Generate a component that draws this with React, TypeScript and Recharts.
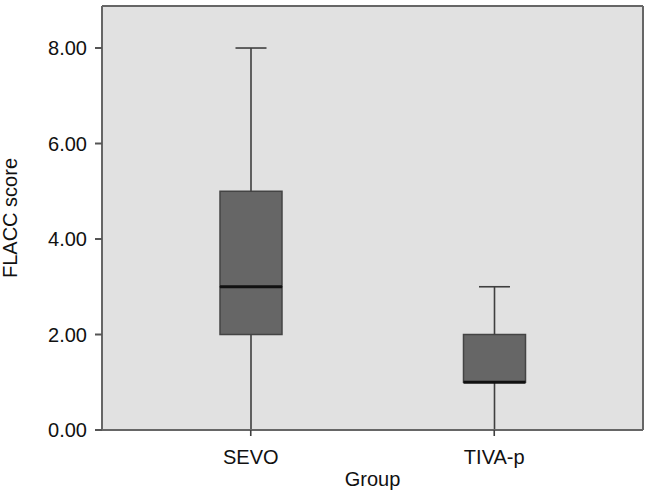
import { ComposedChart, Bar, XAxis, YAxis, CartesianGrid } from "recharts";

const groups = ["SEVO", "TIVA-p"];
const minVals = [0, 0];
const q1Vals = [2, 1];
const medianVals = [3, 1];
const q3Vals = [5, 2];
const maxVals = [8, 3];
const yTicks = [0, 2, 4, 6, 8];

const data = groups.map((g, i) => ({
  group: g,
  base: minVals[i],
  lowWhisker: q1Vals[i] - minVals[i],
  lowBox: medianVals[i] - q1Vals[i],
  highBox: q3Vals[i] - medianVals[i],
  highWhisker: maxVals[i] - q3Vals[i],
}));

const FONT = "'Liberation Sans', Arial, sans-serif";
const LINE = "#3f3f3f";

// whisker: vertical line + cap (cap at bottom for lower, top for upper)
function makeWhisker(capAtTop: boolean) {
  return (props: any) => {
    const { x, y, width, height } = props;
    if (height == null || isNaN(height)) return <g />;
    const cx = x + width / 2;
    const capY = capAtTop ? y : y + height;
    const capW = width / 4;
    return (
      <g>
        <line x1={cx} x2={cx} y1={y} y2={y + height} stroke={LINE} strokeWidth={1.6} />
        <line x1={cx - capW} x2={cx + capW} y1={capY} y2={capY} stroke={LINE} strokeWidth={1.6} />
      </g>
    );
  };
}

function makeBox(withMedian: boolean) {
  return (props: any) => {
    const { x, y, width, height } = props;
    if (height == null || isNaN(height)) return <g />;
    return (
      <g>
        <rect x={x} y={y} width={width} height={height} fill="#666666" stroke="#444444" strokeWidth={1.5} />
        {withMedian && (
          <line x1={x} x2={x + width} y1={y + height} y2={y + height} stroke="#111111" strokeWidth={3} />
        )}
      </g>
    );
  };
}

export default function App() {
  return (
    <div style={{ position: "absolute", left: 0, top: 0, background: "#ffffff" }}>
      <ComposedChart
        width={647}
        height={490}
        data={data}
        margin={{ top: 6, right: 4, bottom: 0, left: 0 }}
        barSize={62}
      >
        <CartesianGrid
          fill="#e1e1e1"
          stroke="#666666"
          strokeWidth={2}
          horizontalCoordinatesGenerator={({ offset }: any) => [offset.top, offset.top + offset.height]}
          verticalCoordinatesGenerator={({ offset }: any) => [offset.left, offset.left + offset.width]}
        />
        <XAxis
          dataKey="group"
          height={60}
          padding={{ left: 27, right: 27 }}
          tickSize={6}
          tickMargin={14}
          axisLine={{ stroke: "#666666", strokeWidth: 2 }}
          tickLine={{ stroke: LINE, strokeWidth: 1.6 }}
          tick={{ fill: "#111111", fontSize: 20, fontFamily: FONT }}
          label={{
            value: "Group",
            position: "insideBottom",
            offset: 4,
            fill: "#111111",
            fontSize: 20,
            fontFamily: FONT,
          }}
        />
        <YAxis
          type="number"
          domain={[0, 8.88]}
          ticks={yTicks}
          width={102}
          tickSize={7}
          tickMargin={8}
          tickFormatter={(v: number) => v.toFixed(2)}
          axisLine={{ stroke: "#666666", strokeWidth: 2 }}
          tickLine={{ stroke: "#555555", strokeWidth: 2 }}
          tick={{ fill: "#111111", fontSize: 20, fontFamily: FONT }}
          label={{
            value: "FLACC score",
            angle: -90,
            position: "insideLeft",
            offset: 5,
            dx: 5,
            style: { textAnchor: "middle" },
            fill: "#111111",
            fontSize: 20,
            fontFamily: FONT,
          }}
        />
        <Bar dataKey="base" stackId="a" fill="none" isAnimationActive={false} />
        <Bar dataKey="lowWhisker" stackId="a" shape={makeWhisker(false)} isAnimationActive={false} />
        <Bar dataKey="lowBox" stackId="a" shape={makeBox(false)} isAnimationActive={false} />
        <Bar dataKey="highBox" stackId="a" shape={makeBox(true)} isAnimationActive={false} />
        <Bar dataKey="highWhisker" stackId="a" shape={makeWhisker(true)} isAnimationActive={false} />
      </ComposedChart>
    </div>
  );
}
